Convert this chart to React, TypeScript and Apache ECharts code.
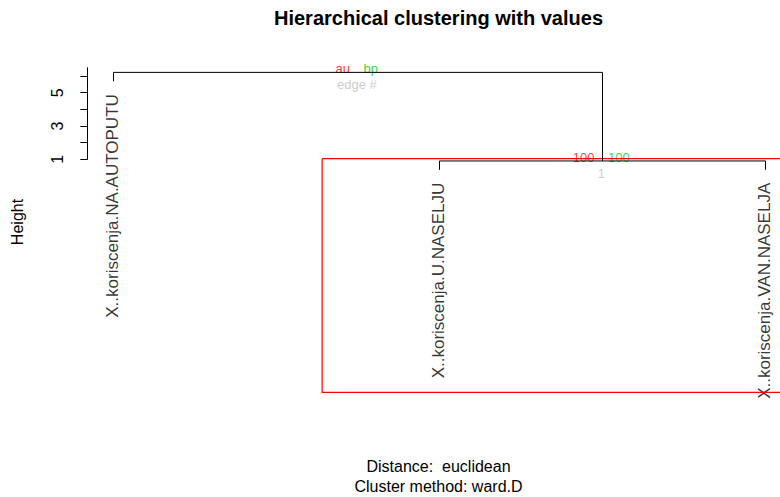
import React, { useEffect, useRef } from "react";
import * as echarts from "echarts";

// ---- data ----
const leafLabels = [
  "X..koriscenja.NA.AUTOPUTU",
  "X..koriscenja.U.NASELJU",
  "X..koriscenja.VAN.NASELJA",
];
// R-style merge matrix: negative = leaf (1-based), positive = earlier merge
const mergeLeft = [-2, -1];
const mergeRight = [-3, 1];
const mergeHeights = [0.9, 6.22];
const auValues = ["100"]; // for non-root merges
const bpValues = ["100"];
const edgeNumbers = ["1"];
const legendLabels = ["au", "bp", "edge #"]; // shown at root
const yTickValues = [1, 2, 3, 4, 5, 6];
const yLabelValues = [1, 3, 5];
const yAxisMin = 1;
const yAxisMax = 6.5;
const hangFraction = 0.1;
const rectLeaves = [2, 3];
const rectXPad = 0.36;
const rectTop = 1.04;
const rectBottom = -13.0;

const FONT = "Liberation Sans, Arial, sans-serif";
const RED = "#FF0000";
const GREEN = "#00CD00";
const GRAY = "#BEBEBE";

export default function App() {
  const ref = useRef<HTMLDivElement>(null);

  useEffect(() => {
    if (!ref.current) return;
    const chart = echarts.init(ref.current, undefined, { renderer: "svg" });

    const hRange = Math.max(...mergeHeights) - Math.min(...mergeHeights);
    const hang = hangFraction * hRange;

    const nodeX: number[] = [];
    const childPos = (c: number): [number, number, boolean] =>
      c < 0 ? [-c, 0, true] : [nodeX[c - 1], mergeHeights[c - 1], false];

    const lineSeries: any[] = [];
    const leafPoints: any[] = [];
    mergeHeights.forEach((h, i) => {
      const [xl, yl0, leafL] = childPos(mergeLeft[i]);
      const [xr, yr0, leafR] = childPos(mergeRight[i]);
      const yl = leafL ? h - hang : yl0;
      const yr = leafR ? h - hang : yr0;
      nodeX[i] = (xl + xr) / 2;
      if (leafL) leafPoints.push({ name: leafLabels[-mergeLeft[i] - 1], value: [xl, yl] });
      if (leafR) leafPoints.push({ name: leafLabels[-mergeRight[i] - 1], value: [xr, yr] });
      lineSeries.push({
        type: "line",
        data: [
          [xl, yl],
          [xl, h],
          [xr, h],
          [xr, yr],
        ],
        symbol: "none",
        clip: false,
        silent: true,
        lineStyle: { color: "#000", width: 1 },
      });
    });

    const rootIdx = mergeHeights.length - 1;
    const auData: any[] = [];
    const bpData: any[] = [];
    const edgeData: any[] = [];
    mergeHeights.forEach((h, i) => {
      const isRoot = i === rootIdx;
      auData.push({ name: isRoot ? legendLabels[0] : auValues[i], value: [nodeX[i], h] });
      bpData.push({ name: isRoot ? legendLabels[1] : bpValues[i], value: [nodeX[i], h] });
      edgeData.push({ name: isRoot ? legendLabels[2] : edgeNumbers[i], value: [nodeX[i], h] });
    });

    const rx0 = Math.min(...rectLeaves) - rectXPad;
    const rx1 = Math.max(...rectLeaves) + rectXPad;

    // pixel layout
    const axisX = 87.3;
    const leaf1X = 113.5;
    const leafSpacing = 326;
    const xMin = 1 - (leaf1X - axisX) / leafSpacing;
    const width = 780 - axisX;
    const xMax = xMin + width / leafSpacing;
    const y1Px = 159.3;
    const pxPerUnit = 16.65;
    const gridTop = y1Px - (yAxisMax - yAxisMin) * pxPerUnit;
    const gridBottom = 497 - y1Px;

    const labelScatter = (data: any[], label: any) => ({
      type: "scatter",
      data,
      symbolSize: 0.1,
      silent: true,
      clip: false,
      itemStyle: { color: "rgba(0,0,0,0)" },
      label: {
        show: true,
        formatter: "{b}",
        fontFamily: FONT,
        ...label,
      },
    });

    chart.setOption({
      animation: false,
      grid: { left: axisX, right: 0, top: gridTop, bottom: gridBottom, containLabel: false },
      xAxis: { type: "value", min: xMin, max: xMax, show: false },
      yAxis: {
        type: "value",
        min: yAxisMin,
        max: yAxisMax,
        axisLine: { show: true, lineStyle: { color: "#000", width: 1 } },
        axisTick: { show: true, length: 7, customValues: yTickValues, lineStyle: { color: "#000" } },
        axisLabel: {
          show: true,
          customValues: yLabelValues,
          rotate: 90,
          margin: 22,
          fontSize: 16,
          color: "#000",
          fontFamily: FONT,
        },
        splitLine: { show: false },
      },
      graphic: [
        {
          type: "text",
          x: 438.5,
          y: 18,
          style: {
            text: "Hierarchical clustering with values",
            fontFamily: FONT,
            fontWeight: "bold",
            fontSize: 20,
            fill: "#000",
            textAlign: "center",
            textVerticalAlign: "middle",
          },
        },
        {
          type: "text",
          x: 17.5,
          y: 222,
          rotation: Math.PI / 2,
          style: {
            text: "Height",
            fontFamily: FONT,
            fontSize: 16,
            fill: "#000",
            textAlign: "center",
            textVerticalAlign: "middle",
          },
        },
        {
          type: "text",
          x: 438.5,
          y: 466,
          style: {
            text: "Distance:  euclidean",
            fontFamily: FONT,
            fontSize: 16,
            fill: "#000",
            textAlign: "center",
            textVerticalAlign: "middle",
          },
        },
        {
          type: "text",
          x: 438.5,
          y: 486,
          style: {
            text: "Cluster method: ward.D",
            fontFamily: FONT,
            fontSize: 16,
            fill: "#000",
            textAlign: "center",
            textVerticalAlign: "middle",
          },
        },
      ],
      series: [
        {
          type: "line",
          data: [
            [rx0, rectTop],
            [rx1, rectTop],
            [rx1, rectBottom],
            [rx0, rectBottom],
            [rx0, rectTop],
          ],
          symbol: "none",
          clip: false,
          silent: true,
          lineStyle: { color: RED, width: 1.2 },
        },
        ...lineSeries,
        labelScatter(leafPoints, {
          position: [0, 0],
          rotate: 90,
          align: "right",
          verticalAlign: "middle",
          offset: [-13, -1],
          fontSize: 17,
          color: "#000",
        }),
        labelScatter(auData, {
          position: [0, 0],
          align: "right",
          verticalAlign: "bottom",
          offset: [-8, 3],
          fontSize: 13,
          color: RED,
        }),
        labelScatter(bpData, {
          position: [0, 0],
          align: "left",
          verticalAlign: "bottom",
          offset: [5.5, 3],
          fontSize: 13,
          color: GREEN,
        }),
        labelScatter(edgeData, {
          position: [0, 0],
          align: "center",
          verticalAlign: "top",
          offset: [-1, 6],
          fontSize: 13,
          color: GRAY,
        }),
      ],
    });

    return () => chart.dispose();
  }, []);

  return (
    <div
      ref={ref}
      style={{ position: "absolute", left: 0, top: 0, width: 780, height: 497, background: "#fff" }}
    />
  );
}
